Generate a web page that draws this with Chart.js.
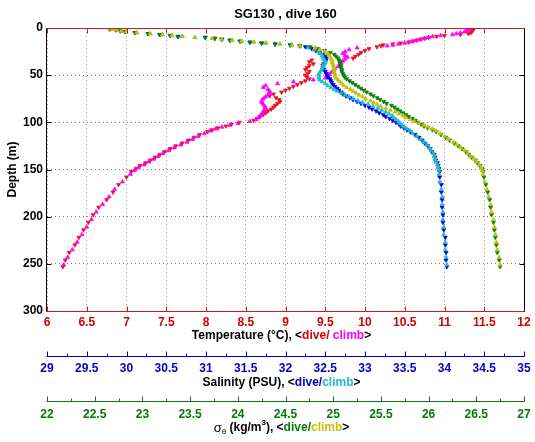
<!DOCTYPE html>
<html><head><meta charset="utf-8">
<script src="https://cdn.jsdelivr.net/npm/chart.js@4"></script>
<style>html,body{margin:0;padding:0;background:#fff}canvas{display:block}</style>
</head><body>
<canvas id="c" width="535" height="442"></canvas>
<script>
// ---------- data (depth in m) ----------
const chartTitle = 'SG130 , dive 160';
const tempRange = [6, 12];
const salRange = [29, 35];
const sigmaRange = [22, 27];
const depthRange = [0, 300];
const xStep = 0.5;
const depthStep = 50;

const diveDepth = [1,2,3,4,5,6,7,8,9,10,11,12,13,14,15,16,17,18,19,20,
  22,24,26,28,30,32,34,36,38,40,42,44,46,48,50,52,54,56,58,60,62,64,66,68,70,72,74,76,78,80,82,84,86,88,90,92,94,96,98,100,102,104,106,108,110,
  113,116,119,122,125,128,131,134,137,140,143,146,149,152,
  158,166,174,182,190,198,206,214,222,230,238,246,253];
const diveTemp = [11.36,11.36,11.35,11.34,11.33,11.30,11.20,11.00,10.90,10.80,10.75,10.70,10.65,10.60,10.55,10.45,10.35,10.23,10.20,10.15,
  10.05,10.00,9.95,9.92,9.88,9.85,9.33,9.30,9.35,9.30, 9.27,9.25,9.30,9.28,9.25,9.27,9.30,9.25,9.20,9.15, 9.10,9.05,9.00,8.95,8.85,8.80,8.88,8.92,8.93,8.90, 8.87,8.85,8.82,8.78,8.75,8.72,8.68,8.64,8.60,8.42, 8.32,8.25,8.15,8.08,8.02,
  7.92,7.85,7.78,7.70,7.62,7.55,7.48,7.42,7.36,7.30,7.24,7.17,7.12,7.06,
  7.00,6.90,6.83,6.75,6.65,6.58,6.52,6.46,6.40,6.35,6.28,6.23,6.20];
const diveSal = [29.79,29.87,29.92,29.98,30.11,30.27,30.42,30.55,30.65,30.99,31.11,31.20,31.30,31.43,31.55,31.70,31.87,32.06,32.18,32.25,
  32.33,32.38,32.43,32.47,32.50,32.51,32.51,32.50,32.48,32.47, 32.47,32.48,32.50,32.51,32.52,32.53,32.56,32.57,32.58,32.60, 32.62,32.65,32.67,32.70,32.72,32.76,32.81,32.85,32.90,32.95, 33.00,33.05,33.09,33.14,33.18,33.23,33.26,33.31,33.35,33.39, 33.43,33.45,33.49,33.53,33.57,
  33.63,33.68,33.72,33.75,33.79,33.82,33.84,33.87,33.88,33.89,33.91,33.92,33.93,33.94,
  33.94,33.96,33.96,33.97,33.97,33.98,33.98,33.99,34.01,34.01,34.02,34.02,34.03];
const diveSigma = [22.66,22.72,22.77,22.82,22.92,23.06,23.18,23.29,23.37,23.66,23.76,23.83,23.92,24.02,24.13,24.25,24.39,24.55,24.65,24.76,
  24.84,24.91,24.97,25.01,25.03,25.05,25.06,25.07,25.07,25.08, 25.08,25.09,25.09,25.10,25.11,25.12,25.14,25.17,25.20,25.23, 25.26,25.29,25.32,25.35,25.39,25.42,25.46,25.49,25.53,25.56, 25.61,25.64,25.67,25.70,25.73,25.76,25.79,25.83,25.86,25.89, 25.92,25.95,25.99,26.04,26.08,
  26.13,26.18,26.22,26.27,26.31,26.35,26.39,26.42,26.45,26.49,26.51,26.54,26.56,26.57,
  26.58,26.60,26.62,26.64,26.65,26.66,26.68,26.69,26.70,26.71,26.72,26.74,26.75];

const climbDepth = [0.5,1,2,3,4,5,6,7,8,9,10,11,12,13,14,15,16,17,18,19,
  21,23,25,27,29,31,33,35,37,39,41,43,45,47,49,51,53,55,57,59,61,63,65,67,69,71,73,75,77,79,81,83,85,87,89,91,93,95,97,99,101,103,105,107,109,
  112,115,118,121,124,127,130,133,136,139,142,145,148,151,
  155,163,171,179,187,195,203,211,219,227,235,243,251];
const climbTemp = [11.30,11.32,11.28,11.30,11.25,11.20,11.15,11.10,10.95,10.85,10.80,10.75,10.70,10.65,10.60,10.55,10.50,10.42,10.35,10.28,
  9.90,9.80,9.75,9.72,9.75,9.78,9.75,9.72,9.70,9.68, 9.66,9.62,9.60,9.58,9.55,9.53,9.50,9.35,9.10,8.90, 8.75,8.72,8.78,8.80,8.80,8.78,8.75,8.72,8.70,8.70, 8.72,8.74,8.75,8.73,8.72,8.70,8.68,8.66,8.63,8.55, 8.40,8.30,8.20,8.12,8.05,
  7.98,7.90,7.83,7.76,7.68,7.60,7.53,7.46,7.40,7.34,7.28,7.22,7.15,7.10,
  7.05,6.95,6.85,6.78,6.70,6.62,6.56,6.50,6.44,6.38,6.32,6.26,6.21];
const climbSal = [29.79,29.83,29.88,29.93,29.99,30.13,30.30,30.45,30.57,30.70,30.86,31.08,31.20,31.33,31.45,31.60,31.75,31.93,32.08,32.18,
  32.28,32.36,32.41,32.43,32.46,32.47,32.48,32.50,32.50,32.48, 32.47,32.46,32.45,32.43,32.42,32.42,32.42,32.43,32.46,32.50, 32.53,32.57,32.61,32.65,32.70,32.75,32.80,32.85,32.91,32.97, 33.04,33.10,33.16,33.21,33.26,33.30,33.34,33.36,33.39,33.42, 33.44,33.47,33.49,33.53,33.57,
  33.60,33.65,33.70,33.74,33.78,33.81,33.83,33.86,33.87,33.88,33.89,33.91,33.92,33.93,
  33.93,33.94,33.96,33.97,33.97,33.98,33.98,33.99,33.99,34.01,34.01,34.02,34.03];
const climbSigma = [22.66,22.69,22.73,22.78,22.83,22.94,23.08,23.21,23.31,23.42,23.55,23.73,23.83,23.94,24.04,24.17,24.30,24.44,24.57,24.65,
  24.81,24.86,24.91,24.94,24.96,24.97,24.98,24.99,24.99,25.00, 25.00,25.01,25.01,25.01,25.02,25.02,25.03,25.05,25.07,25.09, 25.11,25.14,25.18,25.21,25.24,25.27,25.31,25.34,25.39,25.42, 25.46,25.50,25.55,25.60,25.65,25.69,25.73,25.76,25.81,25.85, 25.90,25.95,25.99,26.04,26.08,
  26.12,26.17,26.21,26.26,26.30,26.34,26.38,26.41,26.44,26.48,26.50,26.53,26.55,26.56,
  26.57,26.59,26.61,26.63,26.65,26.66,26.68,26.69,26.70,26.71,26.72,26.74,26.75];

// ---------- styling ----------
const FONT = '"Liberation Sans", Arial, Helvetica, sans-serif';
const C = {
  tDive:'#e8141e', tClimb:'#ff00ff', sDive:'#0000e6', sClimb:'#1fbccc', dDive:'#0a800a', dClimb:'#c2c20a',
  tAx:'#d40000', sAx:'#0000c8', dAx:'#087808', frameRed:'#c81e1e'
};
Chart.defaults.font.family = FONT;
Chart.defaults.font.size = 12;
Chart.defaults.font.weight = 'bold';

function pts(xs, ds){ return ds.map((d,i)=>({x:xs[i], y:d})); }
function ds(label, xs, depths, color, axis, down, order){
  return {label, data: pts(xs, depths), xAxisID: axis, yAxisID:'y', order,
    pointStyle:'triangle', rotation: down?180:0, pointRadius:2.3, pointHoverRadius:2.3,
    backgroundColor: color, borderColor: color, borderWidth: 0.8, showLine:false};
}

function rich(ctx, segs, cx, cy){
  const MAIN = 'bold 12px ' + FONT;
  let w = 0;
  segs.forEach(s=>{ ctx.font = s.f || MAIN; w += ctx.measureText(s.t).width; });
  let x = cx - w/2;
  ctx.textAlign = 'left'; ctx.textBaseline = 'middle';
  segs.forEach(s=>{ ctx.font = s.f || MAIN; ctx.fillStyle = s.c || '#000';
    ctx.fillText(s.t, x, cy + (s.dy||0)); x += ctx.measureText(s.t).width; });
}

const overlay = {
  id:'overlay',
  afterDraw(chart){
    const {ctx, chartArea:a} = chart;
    const {xT, xS, xD, y} = chart.scales;
    const px = v => Math.round(v) + 0.5;
    const seg = (c,x1,y1,x2,y2)=>{ ctx.strokeStyle=c; ctx.beginPath(); ctx.moveTo(x1,y1); ctx.lineTo(x2,y2); ctx.stroke(); };
    ctx.save();
    ctx.lineWidth = 1;
    const L = px(a.left)-1, R = px(a.right), T = px(a.top), B = px(a.bottom);
    xT.ticks.forEach(t=>{ const x = px(xT.getPixelForValue(t.value)); seg(C.frameRed,x,B,x,B-5); seg(C.frameRed,x,T,x,T+5); });
    y.ticks.forEach(t=>{ const yy = px(y.getPixelForValue(t.value)); seg('#000',L,yy,L+5,yy); seg('#000',R,yy,R-5,yy); });
    seg(C.frameRed,L,T,R,T); seg(C.frameRed,L,B,R,B);
    seg('#000',L,T,L,B); seg('#000',R,T,R,B);
    [[xS, C.sAx],[xD, C.dAx]].forEach(([s,c])=>{
      const yy = px(s.top);
      seg(c, L, yy, R, yy);
      s.ticks.forEach((t,i)=>{
        const x = px(s.getPixelForValue(t.value)); seg(c,x,yy,x,yy-5);
        if (i < s.ticks.length-1){ const xm = px(s.getPixelForValue(t.value + xStep/2)); seg(c,xm,yy,xm,yy-3); }
      });
    });
    ctx.fillStyle = '#000'; ctx.font = 'bold 13px ' + FONT; ctx.textAlign='center'; ctx.textBaseline='middle';
    ctx.fillText(chartTitle, (a.left+a.right)/2, 14);
    const cx = (a.left + a.right)/2 - 4;
    rich(ctx, [{t:'Temperature (°C), '},{t:'<'},{t:'dive/', c:C.tAx},{t:' climb', c:C.tClimb},{t:'>'}], cx, a.bottom + 25);
    rich(ctx, [{t:'Salinity (PSU), '},{t:'<'},{t:'dive/', c:C.sAx},{t:'climb', c:C.sClimb},{t:'>'}], cx, xS.top + 27);
    rich(ctx, [{t:'σ', f:'13px ' + FONT},{t:'θ', f:'8px ' + FONT, dy:4},{t:' (kg/m'},{t:'3', f:'bold 8px ' + FONT, dy:-5},{t:'), '},{t:'<'},{t:'dive/', c:C.dAx},{t:'climb', c:C.dClimb},{t:'>'}], cx, xD.top + 27);
    ctx.restore();
  }
};

const fmt = v => String(Math.round(v*100)/100);
const xTicks = (color, pad) => ({stepSize:xStep, color, padding:pad, autoSkip:false, maxRotation:0, minRotation:0, callback: fmt});
const fitX = h => function(s){ s.height = h; s.paddingLeft = 0; s.paddingRight = 0; };

new Chart(document.getElementById('c'), {
  type:'scatter',
  data:{ datasets:[
    ds('Temperature dive', diveTemp, diveDepth, C.tDive, 'xT', true, 6),
    ds('Temperature climb', climbTemp, climbDepth, C.tClimb, 'xT', false, 5),
    ds('Salinity dive', diveSal, diveDepth, C.sDive, 'xS', true, 4),
    ds('Salinity climb', climbSal, climbDepth, C.sClimb, 'xS', false, 3),
    ds('Sigma dive', diveSigma, diveDepth, C.dDive, 'xD', true, 2),
    ds('Sigma climb', climbSigma, climbDepth, C.dClimb, 'xD', false, 1)
  ]},
  options:{
    responsive:false, animation:false,
    layout:{padding:{top:28, right:11, bottom:0, left:0}},
    plugins:{legend:{display:false}, title:{display:false}, tooltip:{enabled:false}},
    scales:{
      xT:{type:'linear', position:'bottom', weight:0, min:tempRange[0], max:tempRange[1],
        ticks:xTicks(C.tAx,4), grid:{drawTicks:false, color:'rgba(165,120,120,0.8)', lineWidth:1},
        border:{display:false, dash:[1,3]}, afterFit: fitX(45)},
      xS:{type:'linear', position:'bottom', weight:1, min:salRange[0], max:salRange[1],
        ticks:xTicks(C.sAx,5), grid:{display:false, drawTicks:false}, border:{display:false},
        afterFit: fitX(45)},
      xD:{type:'linear', position:'bottom', weight:2, min:sigmaRange[0], max:sigmaRange[1],
        ticks:xTicks(C.dAx,6), grid:{display:false, drawTicks:false}, border:{display:false},
        afterFit: fitX(41)},
      y:{type:'linear', position:'left', reverse:true, min:depthRange[0], max:depthRange[1],
        ticks:{stepSize:depthStep, color:'#000', padding:4},
        grid:{drawTicks:false, color:'rgba(90,90,90,0.8)', lineWidth:1}, border:{display:false, dash:[1,3]},
        title:{display:true, text:'Depth (m)', color:'#000', font:{size:12, weight:'bold'}, padding:{top:5, bottom:0}},
        afterFit(s){ s.width = 47; s.paddingTop = 0; s.paddingBottom = 0; }}
    }
  },
  plugins:[overlay]
});
</script>
</body></html>
